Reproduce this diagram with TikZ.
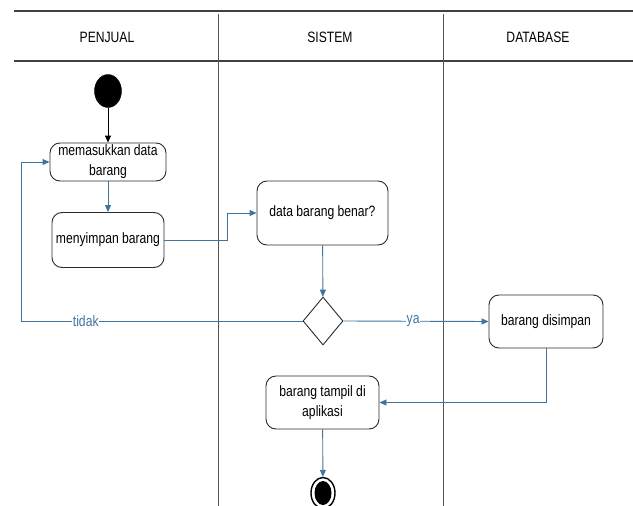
\documentclass[tikz,border=0pt]{standalone}
\usepackage{fontspec}
\setmainfont{Liberation Sans}[FakeStretch=0.81]
\usetikzlibrary{arrows.meta,shapes.geometric}
\definecolor{flow}{HTML}{3E74A0}
\definecolor{edge}{HTML}{2B2B2B}
\tikzset{
  every node/.style={font=\fontsize{15}{20}\selectfont},
  act/.style={draw=edge, line width=0.9pt, rounded corners=10pt, fill=white,
              align=center, inner sep=1pt},
  lane/.style={draw=edge!80, line width=0.9pt},
  head/.style={draw=edge!90, line width=1.6pt},
  conn/.style={draw=flow, line width=0.9pt, -{Triangle[length=7pt,width=6pt]}},
  lbl/.style={fill=white, text=flow, inner sep=0.5pt},
  decision/.style={draw=edge, line width=0.9pt, diamond, aspect=0.83,
                   minimum width=40pt, minimum height=48pt, inner sep=0pt, fill=white}
}
\begin{document}
\begin{tikzpicture}[x=1pt,y=-1pt]
\useasboundingbox (0,0) rectangle (633,506);

% swimlane frame
\draw[head] (14,11) -- (633,11);
\draw[head] (14,61) -- (633,61);
\draw[lane] (218,14) -- (218,506);
\draw[lane] (443,14) -- (443,506);
\node (hp) at (107,37) {PENJUAL};
\node (hs) at (330,37) {SISTEM};
\node (hd) at (538,37) {DATABASE};

% start
\node[draw=black, fill=black, ellipse, minimum width=27pt, minimum height=33pt, inner sep=0pt] (start) at (108,91) {};

% activities
\node[act, minimum width=116pt, minimum height=38pt] (b1) at (108,162) {memasukkan data\\barang};
\node[act, minimum width=112pt, minimum height=55pt] (b2) at (108,240) {menyimpan barang};
\node[act, minimum width=131pt, minimum height=64pt] (b3) at (322.5,213) {data barang benar?};
\node[decision] (dia) at (323,321) {};
\node[act, minimum width=114pt, minimum height=53pt] (b4) at (546,321.5) {barang disimpan};
\node[act, minimum width=113pt, minimum height=53pt] (b5) at (322.5,402.5) {barang tampil di\\aplikasi};

% end
\node[ellipse, draw=black, line width=1.4pt, fill=white, minimum width=24pt, minimum height=31pt, inner sep=0pt] (stop) at (323,493) {};
\node[ellipse, fill=black, minimum width=17pt, minimum height=24pt, inner sep=0pt] (stopin) at (stop.center) {};

% bend points
\coordinate (k1) at (227,240);
\coordinate (k2) at (21,321);

% connectors
\draw[line width=0.9pt, -{Triangle[length=7pt,width=6pt]}] (start) -- (b1);
\draw[conn] (b1) -- (b2);
\draw[conn] (b2.east) -- (k1) |- (b3.west);
\draw[conn] (b3) -- (dia);
\draw[conn] (dia.east) -- node[lbl, pos=0.48] {ya} (b4.west);
\draw[conn] (dia.west) -- node[lbl, pos=0.77] {tidak} (k2) |- (b1.west);
\draw[conn] (b4.south) |- (b5.east);
\draw[conn] (b5) -- (stop);
\end{tikzpicture}
\end{document}
